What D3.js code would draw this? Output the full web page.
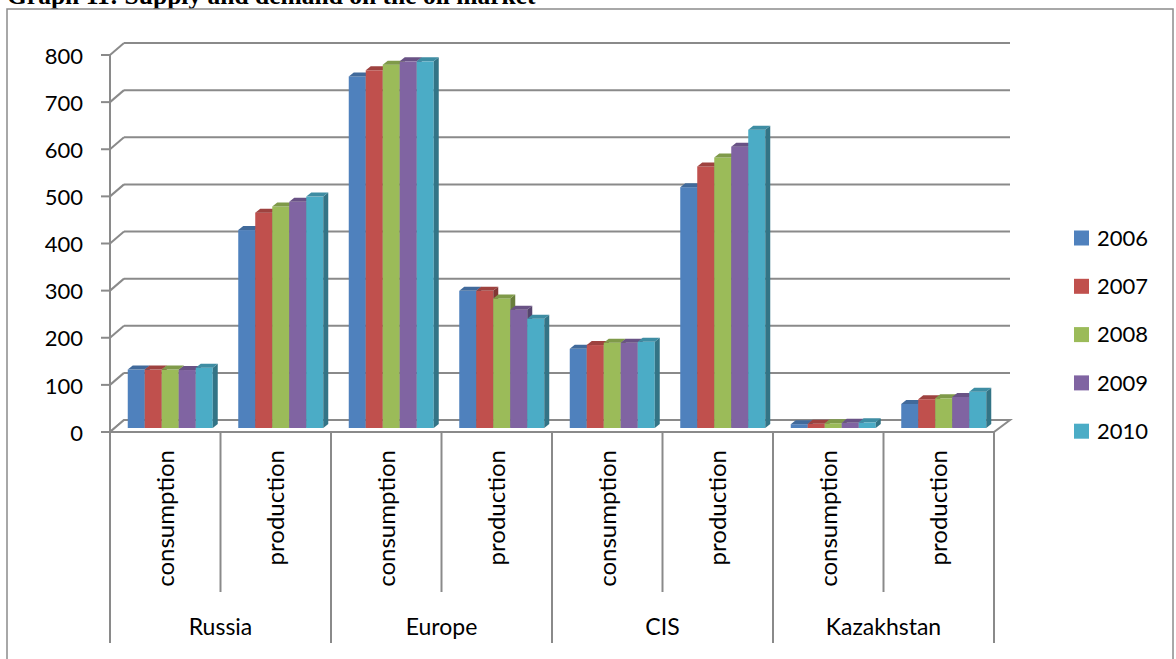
<!DOCTYPE html>
<html>
<head>
<meta charset="utf-8">
<script src="https://cdn.jsdelivr.net/npm/d3@7"></script>
<style>
  html, body { margin: 0; padding: 0; background: #fff; overflow: hidden; }
  svg { display: block; }
  text { font-family: Lato, "Open Sans", sans-serif; fill: #000; }
</style>
</head>
<body>
<svg></svg>
<script>
let groups = ['Russia', 'Europe', 'CIS', 'Kazakhstan']
let measures = ['consumption', 'production']
let years = ['2006', '2007', '2008', '2009', '2010']
let yTicks = [0, 100, 200, 300, 400, 500, 600, 700, 800]

// one value per category: Russia cons, Russia prod, Europe cons, Europe prod, CIS cons, CIS prod, Kaz cons, Kaz prod
let v2006 = [124, 420, 746, 291, 168, 511, 8, 51]
let v2007 = [124, 457, 759, 291, 176, 555, 9, 61]
let v2008 = [124, 470, 771, 275, 181, 574, 10, 63]
let v2009 = [123, 480, 778, 251, 181, 597, 11, 66]
let v2010 = [128, 491, 778, 232, 183, 633, 12, 77]

let colors = ['#4F81BD', '#C0504D', '#9BBB59', '#8064A2', '#4BACC6']
let series = [v2006, v2007, v2008, v2009, v2010]

let width = 1176
let height = 659
let gridColor = '#8a8a8a'

// depth offsets for the fake 3d
let wall = {dx: 14, dy: -12}
let plane = {dx: 5, dy: -4}
let depth = {dx: 5, dy: -4}

let categories = []
groups.forEach(g => measures.forEach(m => categories.push(g + '|' + m)))

let svg = d3.select('svg')
  .attr('width', width)
  .attr('height', height)

let xScale = d3.scaleBand()
  .domain(categories)
  .range([110, 994])
  .paddingInner(0)
  .paddingOuter(0)

let yearScale = d3.scaleBand()
  .domain(years)
  .range([0, xScale.bandwidth()])
  .paddingInner(0)
  .paddingOuter(0.75)

let yScale = d3.scaleLinear()
  .domain([0, 800])
  .range([432, 55])

// title (partly cut off at the top, like the source page)
svg.append('text')
  .attr('x', 7)
  .attr('y', 4)
  .style('font-family', '"Liberation Serif", "Times New Roman", serif')
  .style('font-weight', 'bold')
  .style('font-size', '25.5px')
  .text('Graph 11: Supply and demand on the oil market')

// outer frame
svg.append('rect')
  .attr('x', 7)
  .attr('y', 9)
  .attr('width', 1166)
  .attr('height', 700)
  .attr('fill', 'none')
  .attr('stroke', '#8c8c8c')
  .attr('stroke-width', 1.5)

let x0 = xScale.range()[0]
let x1 = xScale.range()[1]

// back wall gridlines and side wall diagonals
let grid = svg.append('g')
yTicks.forEach(t => {
  let yf = yScale(t)
  grid.append('line')
    .attr('x1', x0 + wall.dx).attr('x2', x1 + wall.dx + 2)
    .attr('y1', yf + wall.dy).attr('y2', yf + wall.dy)
    .attr('stroke', gridColor).attr('stroke-width', 2)
  grid.append('line')
    .attr('x1', x0).attr('x2', x0 + wall.dx)
    .attr('y1', yf).attr('y2', yf + wall.dy)
    .attr('stroke', gridColor).attr('stroke-width', 2)
})

// floor
let y0 = yScale(0)
svg.append('polygon')
  .attr('points', [
    [x0, y0], [x1, y0], [x1 + wall.dx + 2, y0 + wall.dy], [x0 + wall.dx, y0 + wall.dy]
  ].map(p => p.join(',')).join(' '))
  .attr('fill', '#fff')
  .attr('stroke', gridColor)
  .attr('stroke-width', 2)

// bars
let bars = svg.append('g')
categories.forEach((c, ci) => {
  years.forEach((yr, si) => {
    let val = series[si][ci]
    let bx = xScale(c) + yearScale(yr) + plane.dx
    let bw = yearScale.bandwidth()
    let top = yScale(val) + plane.dy
    let base = yScale(0) + plane.dy
    let col = d3.color(colors[si])
    bars.append('rect')
      .attr('x', bx).attr('y', top)
      .attr('width', bw).attr('height', base - top)
      .attr('fill', colors[si])
    bars.append('polygon')
      .attr('points', [
        [bx + bw, top], [bx + bw + depth.dx, top + depth.dy],
        [bx + bw + depth.dx, base + depth.dy], [bx + bw, base]
      ].map(p => p.join(',')).join(' '))
      .attr('fill', col.darker(1.1))
    bars.append('polygon')
      .attr('points', [
        [bx, top], [bx + bw, top], [bx + bw + depth.dx, top + depth.dy], [bx + depth.dx, top + depth.dy]
      ].map(p => p.join(',')).join(' '))
      .attr('fill', col.darker(0.55))
  })
})

// value axis
let axis = svg.append('g')
axis.append('line')
  .attr('x1', x0).attr('x2', x0)
  .attr('y1', yScale(800)).attr('y2', y0)
  .attr('stroke', gridColor).attr('stroke-width', 2)
yTicks.forEach(t => {
  axis.append('line')
    .attr('x1', x0 - 9).attr('x2', x0)
    .attr('y1', yScale(t)).attr('y2', yScale(t))
    .attr('stroke', gridColor).attr('stroke-width', 2)
  axis.append('text')
    .attr('x', 83)
    .attr('y', yScale(t) + 1)
    .attr('dy', '0.35em')
    .attr('text-anchor', 'end')
    .style('font-size', '22px')
    .text(t)
})

// category axis
axis.append('line')
  .attr('x1', x0).attr('x2', x1)
  .attr('y1', y0).attr('y2', y0)
  .attr('stroke', gridColor).attr('stroke-width', 2)

categories.forEach((c, ci) => {
  let left = xScale(c)
  axis.append('line')
    .attr('x1', left).attr('x2', left)
    .attr('y1', y0).attr('y2', ci % 2 === 0 ? 643 : 592)
    .attr('stroke', gridColor).attr('stroke-width', 2)
  axis.append('text')
    .attr('transform', `translate(${left + xScale.bandwidth() / 2}, 450) rotate(-90)`)
    .attr('dy', '0.35em')
    .attr('text-anchor', 'end')
    .style('font-size', '24px')
    .text(c.split('|')[1])
})
axis.append('line')
  .attr('x1', x1).attr('x2', x1)
  .attr('y1', y0).attr('y2', 643)
  .attr('stroke', gridColor).attr('stroke-width', 2)

groups.forEach((g, gi) => {
  let cx = xScale(g + '|' + measures[0]) + xScale.bandwidth()
  axis.append('text')
    .attr('x', cx)
    .attr('y', 635)
    .attr('text-anchor', 'middle')
    .style('font-size', '23px')
    .text(g)
})

// legend
let legend = svg.append('g')
years.forEach((yr, i) => {
  let cy = 238 + i * 48.3
  legend.append('rect')
    .attr('x', 1074).attr('y', cy - 7.5)
    .attr('width', 15).attr('height', 15)
    .attr('fill', colors[i])
  legend.append('text')
    .attr('x', 1097).attr('y', cy)
    .attr('dy', '0.35em')
    .style('font-size', '22px')
    .text(yr)
})
</script>
</body>
</html>
